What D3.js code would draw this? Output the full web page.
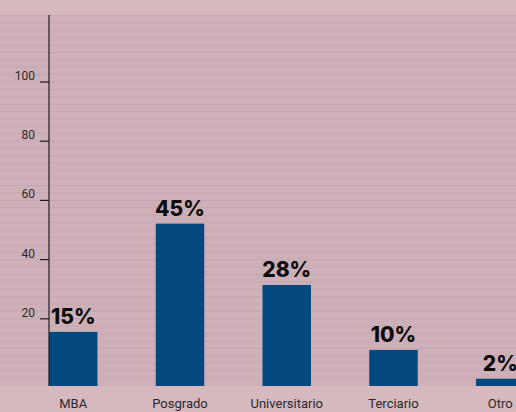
<!DOCTYPE html>
<html>
<head>
<meta charset="utf-8">
<script src="https://cdn.jsdelivr.net/npm/d3@7/dist/d3.min.js"></script>
<style>
  html, body { margin: 0; padding: 0; background: #d6b8bf; }
  svg { display: block; }
</style>
</head>
<body>
<svg id="chart" width="516" height="412"></svg>
<script>
// Nivel de estudios alcanzado
const categories = ["MBA", "Posgrado", "Universitario", "Terciario", "Otro"];
const percentages = [15, 45, 28, 10, 2];
const axisTicks = [20, 40, 60, 80, 100];
const gridSteps = d3.range(0, 122.6, 2.5);

const W = 516, H = 412;
const plotTop = 15, plotBottom = 386, axisX = 49;

const svg = d3.select("#chart");

// page background and striped plot band
svg.append("rect").attr("width", W).attr("height", H).attr("fill", "#d6b8bf");
svg.append("rect")
  .attr("x", 0).attr("y", plotTop)
  .attr("width", W).attr("height", plotBottom - plotTop)
  .attr("fill", "#ceb0b8");

// axis scale (ticks) and bar scale
const yAxis = d3.scaleLinear().domain([0, 100]).range([378, 82]);
const yBar = d3.scaleLinear().domain([0, 100]).range([plotBottom, 25.2]);
const x = d3.scaleBand().domain(categories)
  .range([axisX, 524.5]).paddingInner(0.546).paddingOuter(0);

// thin horizontal stripes
svg.append("g").selectAll("line")
  .data(gridSteps)
  .join("line")
  .attr("x1", 0).attr("x2", W)
  .attr("y1", d => yAxis(d)).attr("y2", d => yAxis(d))
  .attr("stroke", "#bd9ca6")
  .attr("stroke-opacity", 0.4)
  .attr("stroke-width", 1);

// bars
svg.append("g").selectAll("rect")
  .data(categories)
  .join("rect")
  .attr("x", d => x(d))
  .attr("y", (d, i) => yBar(percentages[i]))
  .attr("width", x.bandwidth())
  .attr("height", (d, i) => plotBottom - yBar(percentages[i]))
  .attr("fill", "#034980");

// value labels
svg.append("g").selectAll("text")
  .data(categories)
  .join("text")
  .attr("x", d => x(d) + x.bandwidth() / 2)
  .attr("y", (d, i) => yBar(percentages[i]) - 8)
  .attr("text-anchor", "middle")
  .attr("font-family", "Inter, 'DejaVu Sans', sans-serif")
  .attr("font-weight", 800)
  .attr("font-size", 21)
  .attr("fill", "#0d0d0d")
  .text((d, i) => percentages[i] + "%");

// vertical axis
const axisG = svg.append("g").attr("transform", `translate(${axisX},0)`);
axisG.append("line")
  .attr("x1", 0).attr("x2", 0)
  .attr("y1", plotTop).attr("y2", plotBottom)
  .attr("stroke", "#1e1e1e").attr("stroke-width", 1.2);
const tickG = axisG.selectAll("g.tick")
  .data(axisTicks)
  .join("g")
  .attr("class", "tick")
  .attr("transform", d => `translate(0,${yAxis(d)})`);
tickG.append("line")
  .attr("x1", -9).attr("x2", 0)
  .attr("stroke", "#1e1e1e").attr("stroke-width", 1.2);
tickG.append("text")
  .attr("x", -14).attr("y", -2)
  .attr("text-anchor", "end")
  .attr("font-family", "Roboto, 'Open Sans', sans-serif")
  .attr("font-size", 12)
  .attr("fill", "#2a2a2a")
  .text(d => d);

// category labels
svg.append("g").selectAll("text")
  .data(categories)
  .join("text")
  .attr("x", d => x(d) + x.bandwidth() / 2)
  .attr("y", 408)
  .attr("text-anchor", "middle")
  .attr("font-family", "Roboto, 'Open Sans', sans-serif")
  .attr("font-size", 13)
  .attr("fill", "#2a2a2a")
  .text(d => d);
</script>
</body>
</html>
